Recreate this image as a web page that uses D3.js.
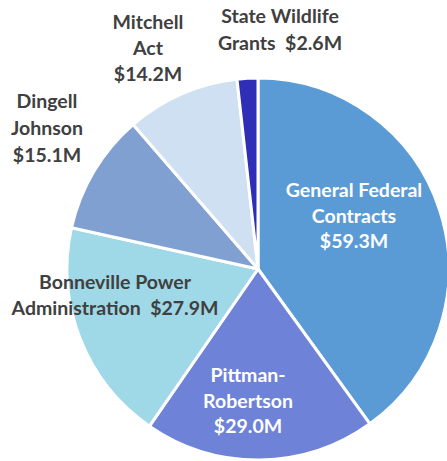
<!DOCTYPE html>
<html>
<head>
<meta charset="utf-8">
<script src="https://cdn.jsdelivr.net/npm/d3@7"></script>
<style>
  body { margin: 0; background: #fff; }
  svg { display: block; }
  text { font-family: Lato, "Open Sans", sans-serif; font-weight: bold; font-size: 19.5px; }
</style>
</head>
<body>
<svg width="447" height="461"></svg>
<script>
const names = ["General Federal Contracts", "Pittman-Robertson", "Bonneville Power Administration",
               "Dingell Johnson", "Mitchell Act", "State Wildlife Grants"];
const values = [59.3, 29.0, 27.9, 15.1, 14.2, 2.6];
const colors = ["#5B9BD5", "#6E82D7", "#9FD8E6", "#7FA0D0", "#CFE0F2", "#2E2EB6"];
// label lines, as printed
const labelLines = [
  ["General Federal", "Contracts", "$59.3M"],
  ["Pittman-", "Robertson", "$29.0M"],
  ["Bonneville Power", "Administration  $27.9M"],
  ["Dingell", "Johnson", "$15.1M"],
  ["Mitchell", "Act", "$14.2M"],
  ["State Wildlife", "Grants  $2.6M"]
];
const labelInside = [true, true, false, false, false, false];

const svg = d3.select("svg");
const cx = 258, cy = 269, radius = 191;
const g = svg.append("g").attr("transform", "translate(" + cx + "," + cy + ")");

const pie = d3.pie().sort(null).value(d => d)(values);
const arc = d3.arc().innerRadius(0).outerRadius(radius);

g.selectAll("path")
  .data(pie)
  .enter()
  .append("path")
  .attr("d", arc)
  .attr("fill", (d, i) => colors[i])
  .attr("stroke", "#fff")
  .attr("stroke-width", 3)
  .attr("stroke-linejoin", "round");

// label anchor points: centre of first line relative to pie centre
const labelPos = [[96, -72], [-10, 113], [-143, 20], [-211, -161], [-110, -240], [22, -246]];
const lineH = [25.5, 25.5, 26, 27, 26, 27];

labelLines.forEach((lines, i) => {
  const t = g.append("text")
    .attr("text-anchor", "middle")
    .attr("fill", labelInside[i] ? "#fff" : "#404040")
    .attr("x", labelPos[i][0])
    .attr("y", labelPos[i][1]);
  lines.forEach((s, j) => {
    t.append("tspan")
      .attr("x", labelPos[i][0])
      .attr("y", labelPos[i][1] + j * lineH[i])
      .attr("xml:space", "preserve")
      .style("white-space", "pre")
      .text(s);
  });
});
</script>
</body>
</html>
